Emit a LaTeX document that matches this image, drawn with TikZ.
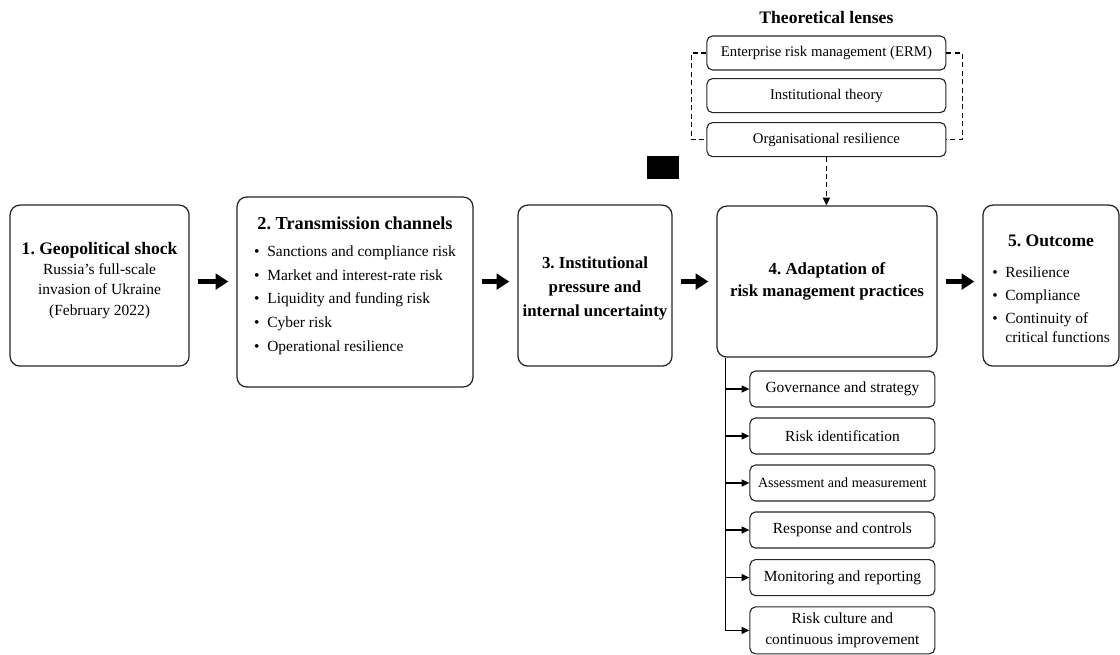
\documentclass[tikz,border=0pt]{standalone}
\usepackage{fontspec}
\setmainfont{Liberation Serif}
\usetikzlibrary{arrows.meta}
\frenchspacing

\newcommand{\headfont}{\fontsize{12.5}{15.5}\selectfont\bfseries}
\newcommand{\boxhead}{\fontsize{12}{15.5}\selectfont\bfseries}
\newcommand{\bodyfont}{\fontsize{11}{14.5}\selectfont}
\newcommand{\itm}{\textbullet\hspace{0.5em}}

\begin{document}
\begin{tikzpicture}[
        mainbox/.style={draw=black!85, line width=0.9pt, rounded corners=7pt, align=center, inner sep=0pt},
        lensbox/.style={draw=black!85, line width=0.8pt, rounded corners=4pt, align=center, minimum width=5.975cm, minimum height=0.85cm, font=\fontsize{10.5}{13}\selectfont},
        stepbox/.style={draw=black!85, line width=0.8pt, rounded corners=4pt, align=center, minimum width=4.625cm, minimum height=0.9cm, font=\bodyfont},
        bigarrow/.style={-{Triangle[length=9pt,width=11pt]}, line width=3pt, shorten <=0.2cm, shorten >=0.2cm},
        smallarrow/.style={-{Triangle[length=5.5pt,width=5pt]}, line width=0.8pt},
        dashline/.style={line width=0.8pt, dash pattern=on 3.5pt off 2.5pt}
    ]
        \fill[white] (0,0) rectangle (28,-16.375);

        % main chain
        \node[mainbox, minimum width=4.475cm, minimum height=4.025cm, font=\bodyfont] (shock) at (2.49,-7.14)
            {{\headfont 1. Geopolitical shock}\\ Russia's full-scale\\ invasion of Ukraine\\ (February 2022)\rule[-10pt]{0pt}{0pt}};
        \node[mainbox, minimum width=5.9cm, minimum height=4.75cm, font=\bodyfont] (trans) at (8.875,-7.3)
            {{\fontsize{13}{15.5}\selectfont\bfseries 2. Transmission channels}\\[4.5pt]
            \begin{tabular}[t]{@{}l@{}}
                \itm Sanctions and compliance risk\\[2.5pt]
                \itm Market and interest-rate risk\\[2.5pt]
                \itm Liquidity and funding risk\\[2.5pt]
                \itm Cyber risk\\[2.5pt]
                \itm Operational resilience\rule[-11pt]{0pt}{0pt}
            \end{tabular}};
        \node[mainbox, minimum width=3.85cm, minimum height=4.025cm, font=\boxhead] (press) at (14.875,-7.14)
            {\rule{0pt}{12pt}3. Institutional\\[1.5pt] pressure and\\[1.5pt] internal uncertainty};
        \node[mainbox, minimum width=5.5cm, minimum height=3.775cm, font=\boxhead] (adapt) at (20.675,-7.04)
            {4. Adaptation of\\ risk management practices};
        \node[mainbox, minimum width=3.4cm, minimum height=4.025cm, font=\bodyfont] (outcome) at (26.275,-7.14)
            {{\headfont\rule{0pt}{17pt}5. Outcome}\\[7.5pt]
            \begin{tabular}[t]{@{}l@{\hspace{0.5em}}l@{}}
                \textbullet & Resilience\\[1.8pt]
                \textbullet & Compliance\\[1.8pt]
                \textbullet & Continuity of\\[-0.5pt]
                 & critical functions
            \end{tabular}};

        \draw[bigarrow] (shock.east |- adapt) -- (trans.west |- adapt);
        \draw[bigarrow] (trans.east |- adapt) -- (press.west |- adapt);
        \draw[bigarrow] (press.east |- adapt) -- (adapt.west);
        \draw[bigarrow] (adapt.east) -- (outcome.west |- adapt);

        % theoretical lenses
        \node[font=\headfont] (lenses) at (20.66,-0.425) {Theoretical lenses};
        \node[lensbox] (erm) at (20.66,-1.325) {Enterprise risk management (ERM)};
        \node[lensbox] (inst) at (20.66,-2.39) {Institutional theory};
        \node[lensbox] (org) at (20.66,-3.49) {Organisational resilience};

        \draw[dashline] (erm.west) -- ++(-0.375,0) |- (org.west);
        \draw[dashline] (erm.east) -- ++(0.4,0) |- (org.east);
        \draw[dashline, -{Triangle[length=5.5pt,width=5pt]}] (org.south) -- (org.south |- adapt.north);

        \fill (16.175,-3.9) rectangle (16.975,-4.475);

        % practice steps
        \node[stepbox] (gov) at (21.06,-9.725) {Governance and strategy};
        \node[stepbox] (ident) at (21.06,-10.9) {Risk identification};
        \node[stepbox, font=\fontsize{10}{12}\selectfont] (assess) at (21.06,-12.075) {Assessment and measurement};
        \node[stepbox] (resp) at (21.06,-13.25) {Response and controls};
        \node[stepbox] (monit) at (21.06,-14.44) {Monitoring and reporting};
        \node[stepbox, minimum height=1.175cm] (culture) at (21.06,-15.76) {Risk culture and\\ continuous improvement};

        \coordinate (trunk) at ([xshift=0.225cm]adapt.south west);
        \draw[line width=0.8pt] (trunk) -- (trunk |- culture.west);
        \foreach \s in {gov,ident,assess,resp,monit,culture}
            \draw[smallarrow] (trunk |- \s.west) -- (\s.west);
    \end{tikzpicture}
\end{document}
